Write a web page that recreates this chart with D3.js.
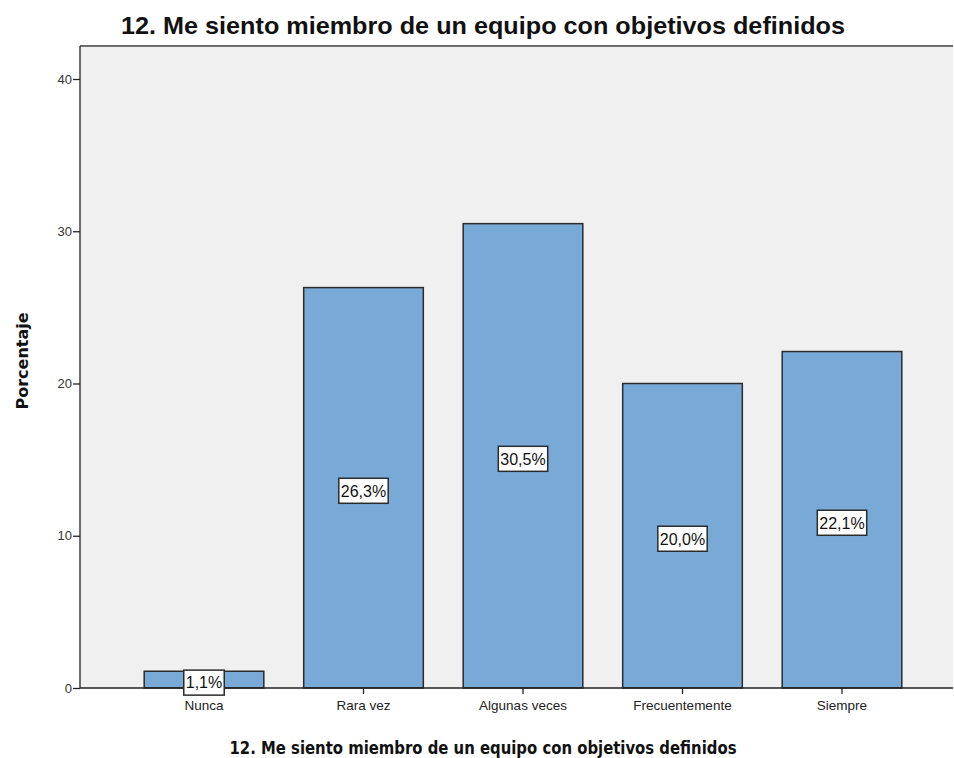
<!DOCTYPE html>
<html>
<head>
<meta charset="utf-8">
<script src="https://cdn.jsdelivr.net/npm/d3@7"></script>
<style>
  html, body { margin: 0; padding: 0; background: #fff; }
  svg { display: block; }
</style>
</head>
<body>
<svg id="chart" width="954" height="758"></svg>
<script>
// Data
const categories = ["Nunca", "Rara vez", "Algunas veces", "Frecuentemente", "Siempre"];
const percentages = [1.1, 26.3, 30.5, 20.0, 22.1];
const percentLabels = ["1,1%", "26,3%", "30,5%", "20,0%", "22,1%"];
const yTicks = [0, 10, 20, 30, 40];
const chartTitle = "12. Me siento miembro de un equipo con objetivos definidos";
const yTitle = "Porcentaje";

const svg = d3.select("#chart");

// Plot frame
const frame = { left: 80, right: 953, top: 46, bottom: 688 };

const y = d3.scaleLinear()
  .domain([0, 40])
  .range([688, 79]);

const x = d3.scaleBand()
  .domain(categories)
  .range([124.25, 921.75])
  .paddingInner(0.25)
  .paddingOuter(0.125);

// Plot background
svg.append("rect")
  .attr("x", frame.left)
  .attr("y", frame.top)
  .attr("width", frame.right - frame.left)
  .attr("height", frame.bottom - frame.top)
  .attr("fill", "#f0f0f0");

// Top border
svg.append("line")
  .attr("x1", frame.left).attr("x2", frame.right)
  .attr("y1", frame.top).attr("y2", frame.top)
  .attr("stroke", "#6e6e6e").attr("stroke-width", 2);

// Bars
svg.append("g")
  .selectAll("rect")
  .data(categories)
  .join("rect")
  .attr("x", d => x(d))
  .attr("y", (d, i) => y(percentages[i]))
  .attr("width", x.bandwidth())
  .attr("height", (d, i) => y(0) - y(percentages[i]))
  .attr("fill", "#79a9d7")
  .attr("stroke", "#2b2b2b")
  .attr("stroke-width", 1.5);

// Y axis
const yAxis = svg.append("g")
  .attr("transform", `translate(${frame.left},0)`)
  .call(d3.axisLeft(y).tickValues(yTicks).tickSize(7).tickSizeOuter(0).tickFormat(d3.format("d")));
yAxis.select(".domain").attr("d", `M0,${frame.top}V${frame.bottom}`).attr("stroke", "#222").attr("stroke-width", 1.3);
yAxis.selectAll(".tick line").attr("stroke", "#222").attr("stroke-width", 1.3);
yAxis.selectAll(".tick text")
  .attr("x", -8)
  .attr("font-family", "Liberation Sans, Arial, sans-serif")
  .attr("font-size", 13)
  .attr("fill", "#333");

// X axis
const xAxis = svg.append("g")
  .attr("transform", `translate(0,${frame.bottom})`)
  .call(d3.axisBottom(x).tickSize(6).tickSizeOuter(0));
xAxis.select(".domain").attr("d", `M${frame.left},0H${frame.right}`).attr("stroke", "#222").attr("stroke-width", 1.5);
xAxis.selectAll(".tick line").attr("stroke", "#222").attr("stroke-width", 1.3);
xAxis.selectAll(".tick text")
  .attr("y", 12)
  .attr("font-family", "Liberation Sans, Arial, sans-serif")
  .attr("font-size", 13.5)
  .attr("fill", "#222");

// Value labels in boxes at bar middles
const labels = svg.append("g")
  .selectAll("g")
  .data(categories)
  .join("g")
  .attr("transform", (d, i) => `translate(${x(d) + x.bandwidth() / 2},${(y(0) + y(percentages[i])) / 2 + 3})`);

labels.append("text")
  .attr("text-anchor", "middle")
  .attr("dy", "0.36em")
  .attr("font-family", "Liberation Sans, Arial, sans-serif")
  .attr("font-size", 16)
  .attr("fill", "#111")
  .text((d, i) => percentLabels[i])
  .each(function () {
    const bb = this.getBBox();
    d3.select(this.parentNode).insert("rect", "text")
      .attr("x", bb.x - 2)
      .attr("y", -12.5)
      .attr("width", bb.width + 4)
      .attr("height", 25)
      .attr("fill", "#fff")
      .attr("stroke", "#2b2b2b")
      .attr("stroke-width", 1.5);
  });

// Chart title
svg.append("text")
  .attr("x", 483)
  .attr("y", 34)
  .attr("text-anchor", "middle")
  .attr("font-family", "Liberation Sans, Arial, sans-serif")
  .attr("font-weight", "bold")
  .attr("font-size", 24)
  .attr("textLength", 724)
  .attr("lengthAdjust", "spacingAndGlyphs")
  .attr("fill", "#111")
  .text(chartTitle);

// X axis title
svg.append("text")
  .attr("x", 483)
  .attr("y", 754)
  .attr("text-anchor", "middle")
  .attr("font-family", "DejaVu Sans, Verdana, sans-serif")
  .attr("font-weight", "bold")
  .attr("font-size", 18)
  .attr("textLength", 507)
  .attr("lengthAdjust", "spacingAndGlyphs")
  .attr("fill", "#111")
  .text(chartTitle);

// Y axis title
svg.append("text")
  .attr("transform", "translate(28,361) rotate(-90)")
  .attr("text-anchor", "middle")
  .attr("font-family", "DejaVu Sans, Verdana, sans-serif")
  .attr("font-weight", "bold")
  .attr("font-size", 16)
  .attr("fill", "#111")
  .text(yTitle);
</script>
</body>
</html>
